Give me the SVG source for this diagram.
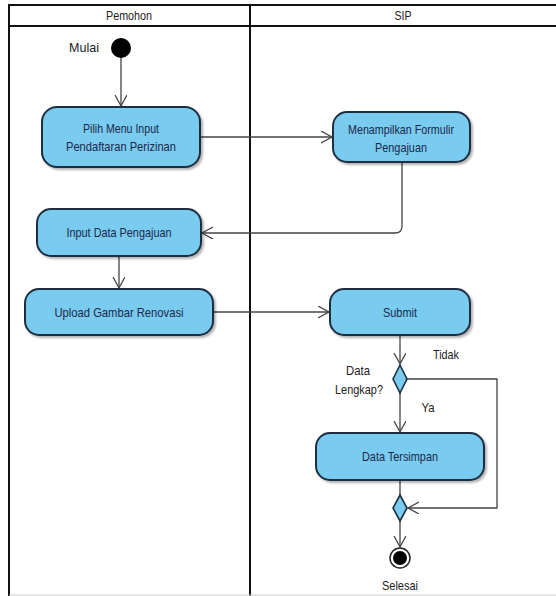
<svg xmlns="http://www.w3.org/2000/svg" width="556" height="596" viewBox="0 0 556 596">
<style>
.lane{stroke:#111;stroke-width:2;fill:none}
.box{fill:#7acbf0;stroke:#1d2f3f;stroke-width:2;filter:url(#sh)}
.dia{fill:#7acbf0;stroke:#1d2f3f;stroke-width:1.6}
.t{font-family:"Liberation Sans",Arial,sans-serif;font-size:13px;fill:#1a2848;text-anchor:middle}
.l{font-family:"Liberation Sans",Arial,sans-serif;font-size:13px;fill:#222;text-anchor:middle}
.c{stroke:#444;stroke-width:1.3;fill:none}
.a{marker-end:url(#arr)}
</style>
<defs>
<marker id="arr" markerUnits="userSpaceOnUse" markerWidth="13" markerHeight="14" refX="11" refY="6" orient="auto">
<path d="M0,0 L11,6 L0,12" fill="none" stroke="#444" stroke-width="1.3"/>
</marker>
<filter id="sh" x="-10%" y="-10%" width="125%" height="130%">
<feDropShadow dx="2" dy="2" stdDeviation="1" flood-color="#000" flood-opacity="0.3"/>
</filter>
</defs>
<rect width="556" height="596" fill="#fff"/>
<g id="lanes">
<line class="lane" x1="9" y1="5" x2="556" y2="5"/>
<line class="lane" x1="9" y1="26" x2="556" y2="26"/>
<line class="lane" x1="9" y1="4" x2="9" y2="596"/>
<line class="lane" x1="250" y1="4" x2="250" y2="596"/>
<line x1="9" y1="595" x2="556" y2="595" stroke="#ccc" stroke-width="1"/>
<text class="l" x="129" y="20" textLength="46" lengthAdjust="spacingAndGlyphs">Pemohon</text>
<text class="l" x="403" y="20" textLength="17" lengthAdjust="spacingAndGlyphs">SIP</text>
</g>
<g id="connectors">
<line class="c a" x1="121" y1="56" x2="121" y2="106"/>
<line class="c a" x1="201" y1="137" x2="332" y2="137"/>
<path class="c a" d="M402,163 L402,226 Q402,233 395,233 L202,233"/>
<line class="c a" x1="119" y1="257" x2="119" y2="288"/>
<line class="c a" x1="214" y1="312" x2="329" y2="312"/>
<line class="c a" x1="400" y1="336" x2="400" y2="364"/>
<line class="c a" x1="400" y1="393" x2="400" y2="432"/>
<path class="c a" d="M407,379 L497,379 L497,508 L408,508"/>
<line class="c" x1="400" y1="481" x2="400" y2="495"/>
<line class="c a" x1="400" y1="521" x2="400" y2="547"/>
</g>
<g id="start">
<circle cx="121" cy="48" r="10" fill="#000"/>
<text class="l" x="84" y="52" textLength="30" lengthAdjust="spacingAndGlyphs">Mulai</text>
</g>
<g id="pilih">
<rect class="box" x="42" y="107" width="158" height="60" rx="15"/>
<text class="t" x="121" y="133" textLength="76" lengthAdjust="spacingAndGlyphs">Pilih Menu Input</text>
<text class="t" x="121" y="151" textLength="110" lengthAdjust="spacingAndGlyphs">Pendaftaran Perizinan</text>
</g>
<g id="menampilkan">
<rect class="box" x="333" y="112" width="137" height="50" rx="14"/>
<text class="t" x="401" y="134" textLength="106" lengthAdjust="spacingAndGlyphs">Menampilkan Formulir</text>
<text class="t" x="401" y="152" textLength="52" lengthAdjust="spacingAndGlyphs">Pengajuan</text>
</g>
<g id="inputdata">
<rect class="box" x="37" y="209" width="164" height="47" rx="14"/>
<text class="t" x="119" y="237" textLength="105" lengthAdjust="spacingAndGlyphs">Input Data Pengajuan</text>
</g>
<g id="upload">
<rect class="box" x="25" y="289" width="188" height="46" rx="14"/>
<text class="t" x="119" y="317" textLength="129" lengthAdjust="spacingAndGlyphs">Upload Gambar Renovasi</text>
</g>
<g id="submit">
<rect class="box" x="330" y="289" width="140" height="46" rx="14"/>
<text class="t" x="400" y="317" textLength="34" lengthAdjust="spacingAndGlyphs">Submit</text>
</g>
<g id="decision">
<polygon class="dia" points="400,365 407,379 400,393 393,379"/>
<text class="l" x="358" y="375" textLength="24" lengthAdjust="spacingAndGlyphs">Data</text>
<text class="l" x="359" y="394" textLength="48" lengthAdjust="spacingAndGlyphs">Lengkap?</text>
<text class="l" x="446" y="359" textLength="26" lengthAdjust="spacingAndGlyphs">Tidak</text>
<text class="l" x="428" y="412" textLength="13" lengthAdjust="spacingAndGlyphs">Ya</text>
</g>
<g id="tersimpan">
<rect class="box" x="316" y="433" width="168" height="47" rx="14"/>
<text class="t" x="400" y="461" textLength="76" lengthAdjust="spacingAndGlyphs">Data Tersimpan</text>
</g>
<g id="merge">
<polygon class="dia" points="400,495 407,508 400,521 393,508"/>
</g>
<g id="end">
<circle cx="400" cy="558" r="10" fill="#fff" stroke="#222" stroke-width="1.5"/>
<circle cx="400" cy="558" r="7" fill="#000"/>
<text class="l" x="400" y="590" textLength="36" lengthAdjust="spacingAndGlyphs">Selesai</text>
</g>
</svg>
